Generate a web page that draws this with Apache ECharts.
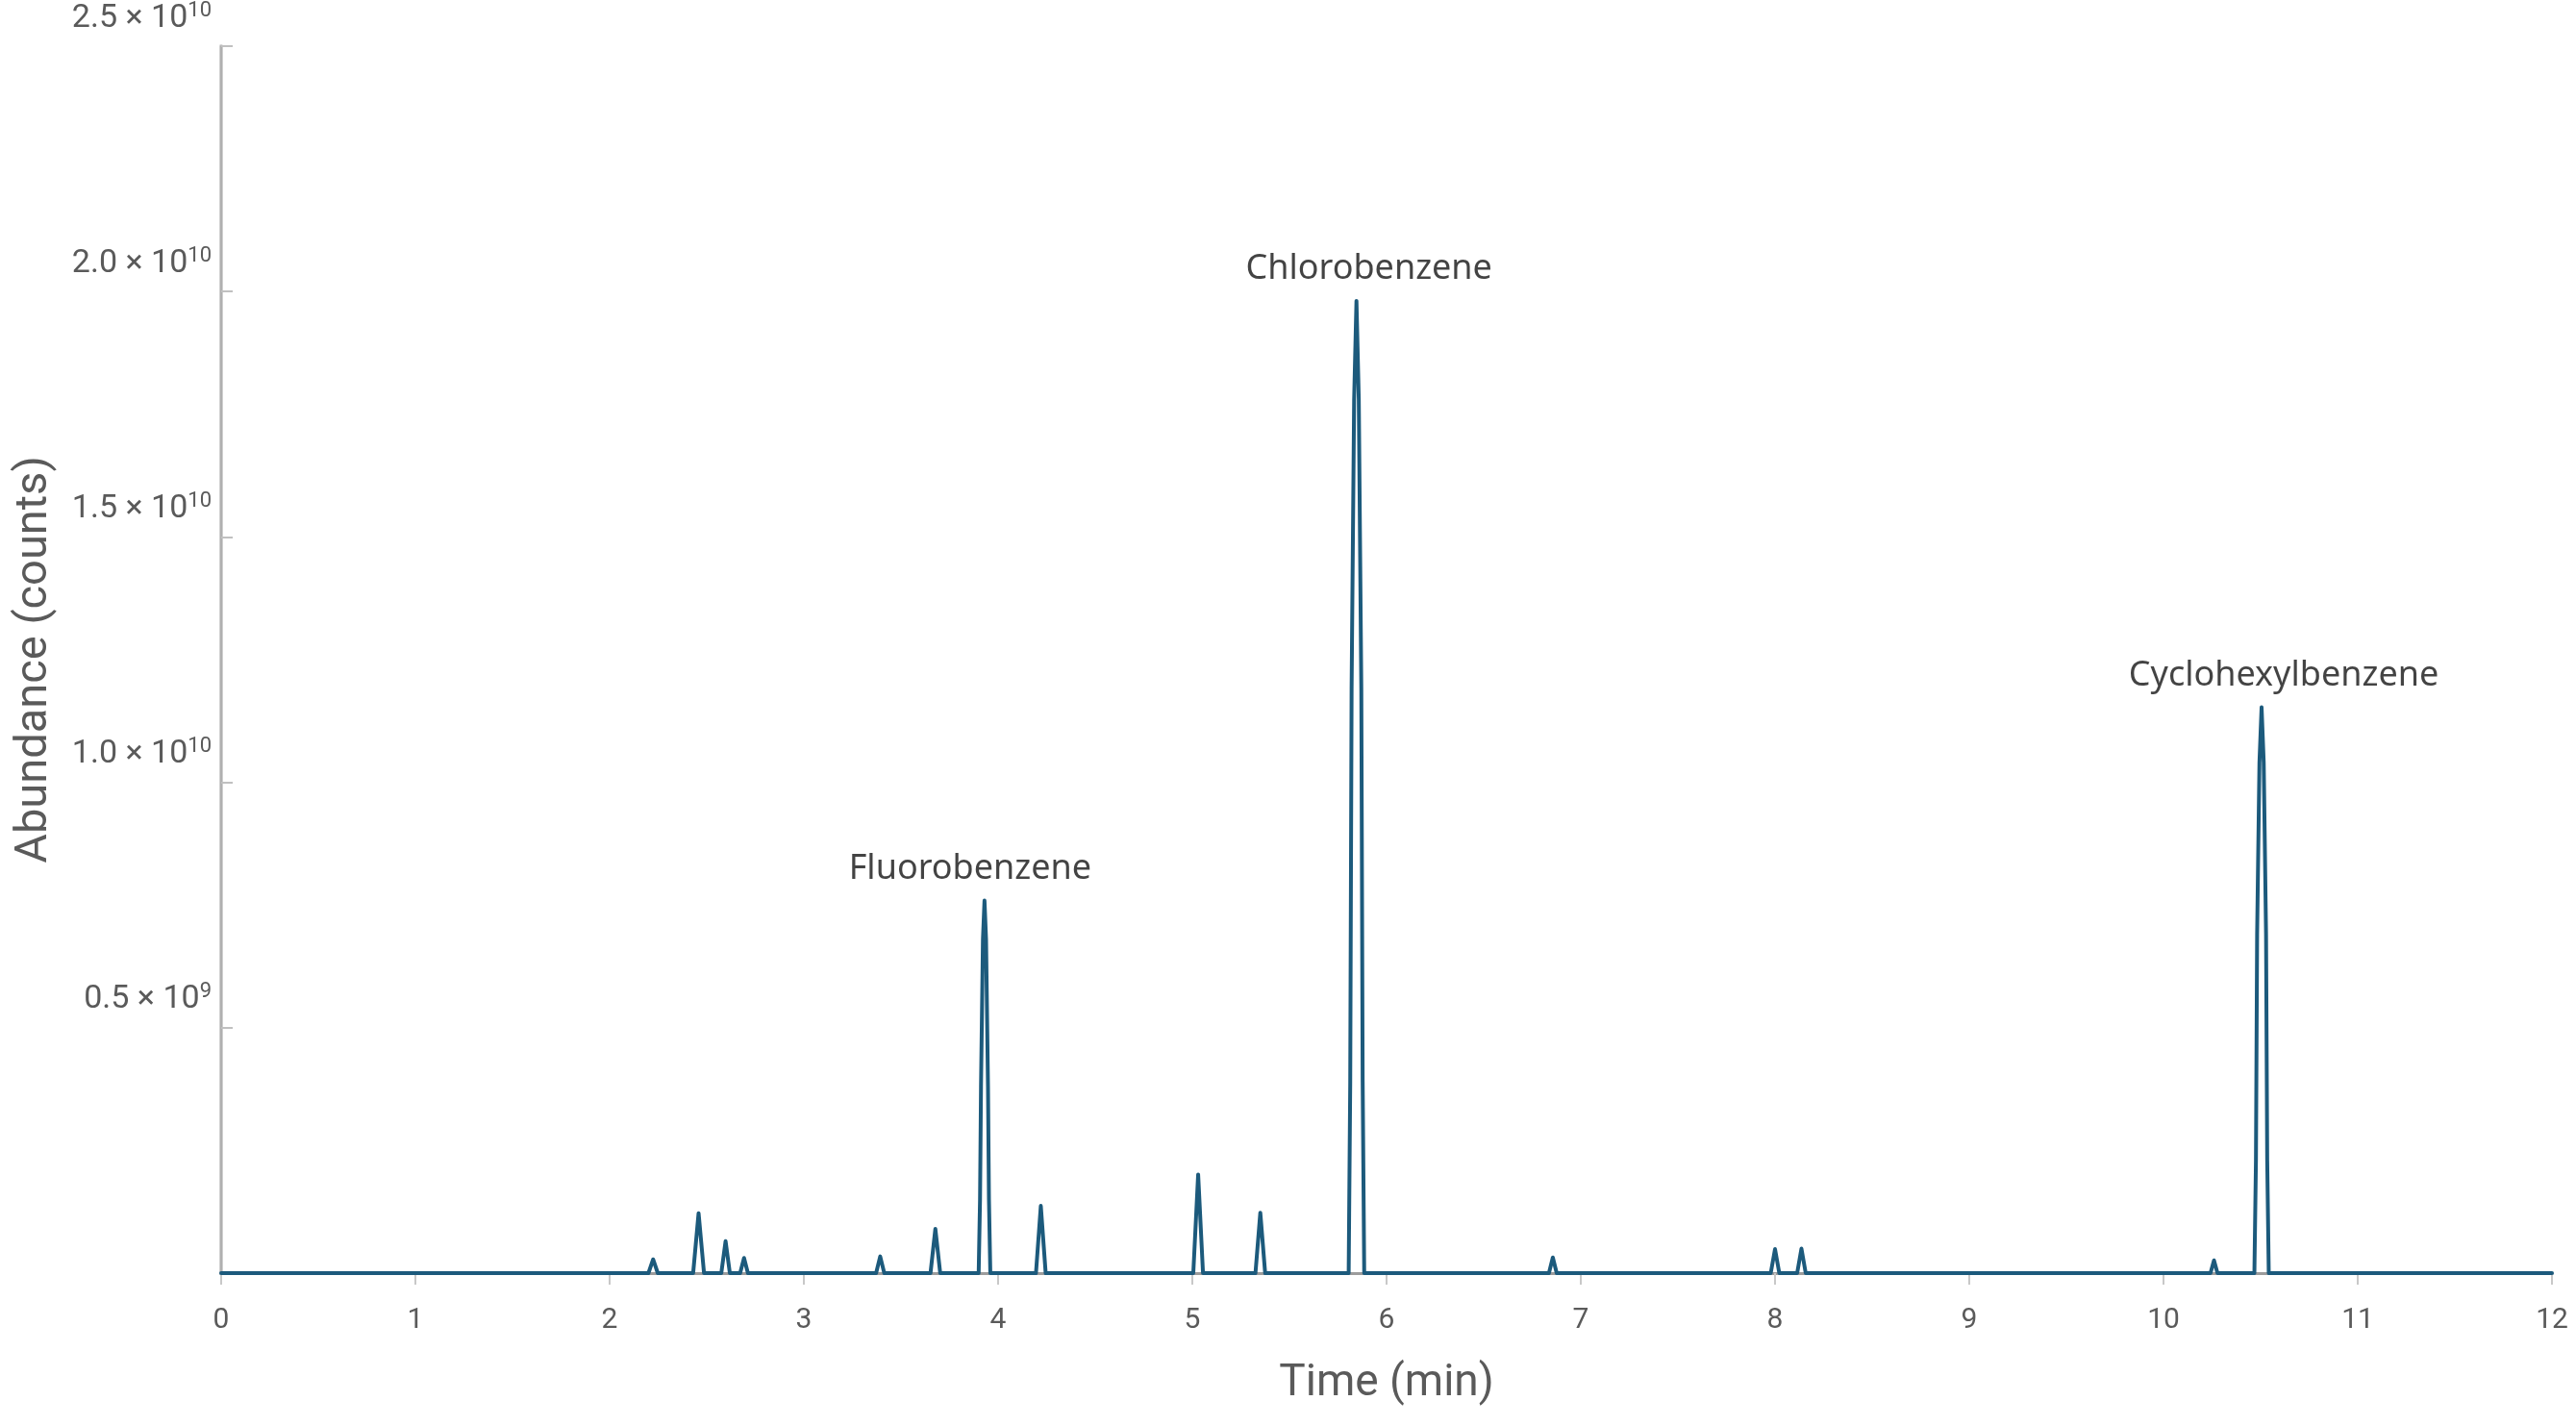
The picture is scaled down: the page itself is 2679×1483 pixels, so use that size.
<!DOCTYPE html>
<html>
<head>
<meta charset="utf-8">
<title>Chromatogram</title>
<script src="https://cdn.jsdelivr.net/npm/echarts/dist/echarts.min.js"></script>
<style>
  html, body { margin: 0; padding: 0; background: #fff; }
  #chart { width: 2679px; height: 1483px; }
</style>
</head>
<body>
<div id="chart"></div>
<script>
// trace: retention time (min) and abundance (counts)
var traceTime = [
    0, 2.200, 2.224, 2.248,
    2.430, 2.458, 2.486,
    2.575, 2.597, 2.619,
    2.672, 2.692, 2.712,
    3.372, 3.393, 3.414,
    3.652, 3.677, 3.702,
    3.900, 3.907, 3.912, 3.922, 3.930, 3.938, 3.948, 3.953, 3.960,
    4.195, 4.220, 4.245,
    5.005, 5.030, 5.055,
    5.325, 5.350, 5.375,
    5.805, 5.813, 5.820, 5.833, 5.845, 5.857, 5.870, 5.877, 5.885,
    6.836, 6.856, 6.876,
    7.978, 8.000, 8.022,
    8.114, 8.136, 8.158,
    10.242, 10.260, 10.278,
    10.468, 10.476, 10.482, 10.494, 10.505, 10.516, 10.528, 10.534, 10.542,
    12
];
var traceAbundance = [
    0, 0, 0.28e9, 0,
    0, 1.22e9, 0,
    0, 0.65e9, 0,
    0, 0.31e9, 0,
    0, 0.34e9, 0,
    0, 0.90e9, 0,
    0, 1.5e9, 3.8e9, 6.8e9, 7.59e9, 6.8e9, 3.8e9, 1.5e9, 0,
    0, 1.37e9, 0,
    0, 2.01e9, 0,
    0, 1.23e9, 0,
    0, 3.9e9, 11.9e9, 17.8e9, 19.81e9, 17.8e9, 11.9e9, 3.9e9, 0,
    0, 0.32e9, 0,
    0, 0.49e9, 0,
    0, 0.50e9, 0,
    0, 0.26e9, 0,
    0, 2.3e9, 6.9e9, 10.4e9, 11.53e9, 10.4e9, 6.9e9, 2.3e9, 0,
    0
];

// named peaks
var peakNames = ['Fluorobenzene', 'Chlorobenzene', 'Cyclohexylbenzene'];
var peakTime = [3.930, 5.845, 10.505];
var peakAbundance = [7.59e9, 19.81e9, 11.53e9];

// y tick labels (value 0 has none)
var yTickValues = [0.5e10, 1.0e10, 1.5e10, 2.0e10, 2.5e10];
var yTickMantissa = ['0.5', '1.0', '1.5', '2.0', '2.5'];
var yTickExponent = ['9', '10', '10', '10', '10'];

var labelOffsets = [[-15, 0], [13, 0], [23, 0]];

var traceData = [];
for (var i = 0; i < traceTime.length; i++) {
    traceData.push([traceTime[i], traceAbundance[i]]);
}
var peakData = [];
for (var j = 0; j < peakNames.length; j++) {
    peakData.push({
        name: peakNames[j],
        value: [peakTime[j], peakAbundance[j]],
        label: { offset: labelOffsets[j] }
    });
}

var axisGrey = '#5a5a5a';
var chart = echarts.init(document.getElementById('chart'));

chart.setOption({
    animation: false,
    backgroundColor: '#ffffff',
    grid: { left: 230, right: 25, top: 42, bottom: 159 },
    xAxis: [{
        type: 'value',
        min: 0,
        max: 12,
        interval: 1,
        name: 'Time (min)',
        nameLocation: 'middle',
        nameGap: 92,
        nameTextStyle: { fontFamily: 'Roboto', fontSize: 46, color: axisGrey },
        axisLine: { show: true, lineStyle: { color: '#cccccc', width: 3 } },
        axisTick: { show: true, inside: false, length: 12, lineStyle: { color: '#c8c8c8', width: 2 } },
        axisLabel: { margin: 34, fontFamily: 'Roboto', fontSize: 30, color: axisGrey },
        splitLine: { show: false }
    }, {
        // top frame
        type: 'value',
        position: 'top',
        min: 0,
        max: 12,
        axisLine: { show: true, lineStyle: { color: '#9c9c9c', width: 3 } },
        axisTick: { show: false },
        axisLabel: { show: false },
        splitLine: { show: false }
    }],
    yAxis: [{
        type: 'value',
        min: 0,
        max: 2.5e10,
        interval: 5e9,
        name: 'Abundance (counts)',
        nameLocation: 'middle',
        nameGap: 170,
        nameTextStyle: { fontFamily: 'Roboto', fontSize: 47, color: axisGrey },
        axisLine: { show: true, lineStyle: { color: '#d0d0d0', width: 4 } },
        axisTick: { show: true, inside: true, length: 12, lineStyle: { color: '#c0c0c0', width: 2 } },
        axisLabel: {
            margin: 10,
            verticalAlign: 'bottom',
            padding: [0, 0, 10, 0],
            formatter: function (v) {
                var k = yTickValues.indexOf(v);
                if (k < 0) return '';
                return '{m|' + yTickMantissa[k] + ' × 10}{e|' + yTickExponent[k] + '}';
            },
            rich: {
                m: { fontFamily: 'Roboto', fontSize: 34, color: axisGrey, lineHeight: 38 },
                e: { fontFamily: 'Roboto', fontSize: 22, color: axisGrey, lineHeight: 22, verticalAlign: 'top' }
            }
        },
        splitLine: { show: false }
    }, {
        // right frame
        type: 'value',
        position: 'right',
        min: 0,
        max: 2.5e10,
        axisLine: { show: true, lineStyle: { color: '#b0b0b0', width: 2 } },
        axisTick: { show: false },
        axisLabel: { show: false },
        splitLine: { show: false }
    }],
    series: [{
        type: 'line',
        data: traceData,
        showSymbol: false,
        symbol: 'none',
        lineStyle: { color: '#1c5a7c', width: 4, join: 'round', cap: 'round' },
        z: 3
    }, {
        type: 'scatter',
        data: peakData,
        symbolSize: 0,
        silent: true,
        label: {
            show: true,
            position: 'top',
            distance: 15,
            formatter: '{b}',
            fontFamily: 'Noto Sans',
            fontSize: 36,
            color: '#141414'
        },
        z: 4
    }]
});
</script>
</body>
</html>
